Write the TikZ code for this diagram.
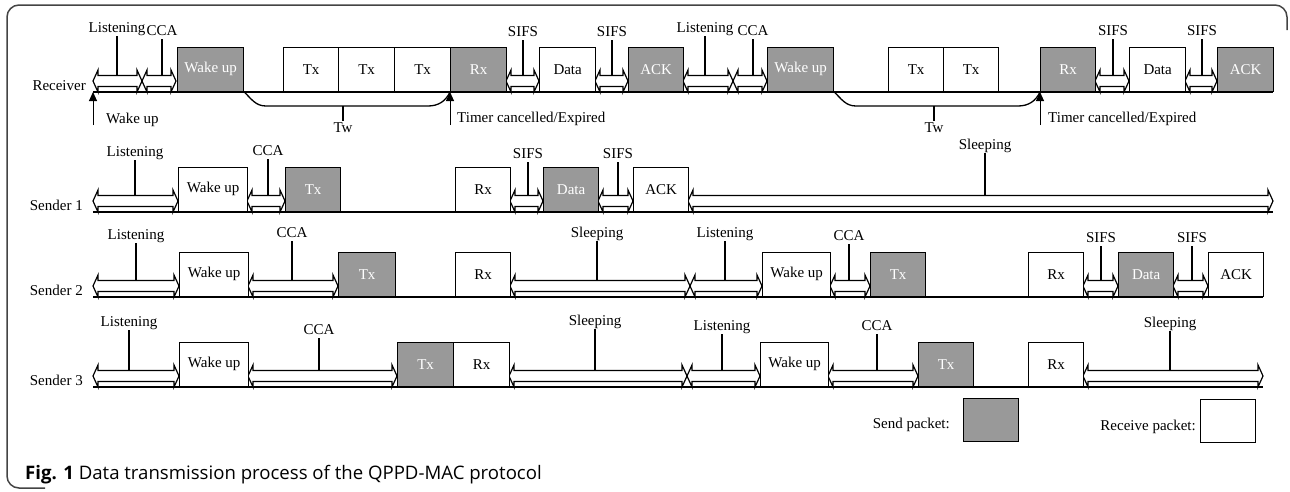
\documentclass[tikz,border=0pt]{standalone}
\usepackage{fontspec}
\setmainfont{Liberation Serif}
\newfontfamily\captionfont{Open Sans}
\usetikzlibrary{arrows.meta,positioning}
\definecolor{pktgray}{HTML}{999999}
\definecolor{framegray}{HTML}{444444}
\tikzset{
  pkt/.style={draw=black, line width=1.3pt, minimum height=44pt, inner sep=0pt, anchor=south west, font=\fontsize{15}{18}\selectfont},
  sendpkt/.style={pkt, fill=pktgray, text=white},
  recvpkt/.style={pkt, fill=white},
  lbl/.style={inner sep=0pt, anchor=base, font=\fontsize{15}{18}\selectfont},
  tick/.style={line width=1.2pt},
  timeline/.style={line width=1.5pt},
  phasebar/.style={line width=1.2pt, fill=white},
  upline/.style={line width=1pt, -{Triangle[length=9pt,width=8pt]}},
  brace/.style={line width=1.3pt},
  frame/.style={draw=framegray, line width=1.5pt, rounded corners=12pt}
}
% hollow double arrow: left x, right x, row baseline
\newcommand{\phasearrow}[3]{%
  \draw[phasebar] (#1,#3-11) -- (#1+5,#3-22) -- (#1+5,#3-16.5) -- (#2-5,#3-16.5) -- (#2-5,#3-22) -- (#2,#3-11)
    -- (#2-5,#3) -- (#2-5,#3-5.5) -- (#1+5,#3-5.5) -- (#1+5,#3) -- cycle;}
% label with tick: name, x, text baseline, row baseline, text
\newcommand{\phaselabel}[5]{%
  \node[lbl] (#1) at (#2,#3) {#5};
  \coordinate (#1-a) at (#2,#3+4);
  \coordinate (#1-b) at (#2,#4-16.5);
  \draw[tick] (#1-a) -- (#1-b);}

\begin{document}
\begin{tikzpicture}[x=1pt, y=-1pt]
  \useasboundingbox (0,0) rectangle (1290,491);
  \draw[frame] (45,488) -- (7,488) -- (7,5) -- (1287,5) -- (1287,30);

  % Receiver
  \node[lbl, anchor=base east] (recv) at (86,90) {Receiver};
  \coordinate (r-start) at (93,92);
  \coordinate (r-end) at (1273,92);
  \draw[timeline] (r-start) -- (r-end);
  \phasearrow{93}{142}{92}
  \phasearrow{142}{176}{92}
  \phasearrow{506}{539}{92}
  \phasearrow{595}{628}{92}
  \phasearrow{683}{733}{92}
  \phasearrow{733}{767}{92}
  \phasearrow{1095}{1129}{92}
  \phasearrow{1185}{1217}{92}
  \node[sendpkt, minimum width=66pt] (r-wake1) at (177,92) {Wake up};
  \node[recvpkt, minimum width=55pt] (r-tx1) at (283,92) {Tx};
  \node[recvpkt, minimum width=56pt] (r-tx2) at (338,92) {Tx};
  \node[recvpkt, minimum width=56pt] (r-tx3) at (394,92) {Tx};
  \node[sendpkt, minimum width=56pt] (r-rx1) at (450,92) {Rx};
  \node[recvpkt, minimum width=56pt] (r-data1) at (539,92) {Data};
  \node[sendpkt, minimum width=55pt] (r-ack1) at (628,92) {ACK};
  \node[sendpkt, minimum width=66pt] (r-wake2) at (767,92) {Wake up};
  \node[recvpkt, minimum width=55pt] (r-tx4) at (888,92) {Tx};
  \node[recvpkt, minimum width=55pt] (r-tx5) at (943,92) {Tx};
  \node[sendpkt, minimum width=55pt] (r-rx2) at (1040,92) {Rx};
  \node[recvpkt, minimum width=56pt] (r-data2) at (1129,92) {Data};
  \node[sendpkt, minimum width=56pt] (r-ack2) at (1217,92) {ACK};
  \phaselabel{r-lis1}{117}{32}{92}{Listening}
  \phaselabel{r-cca1}{162}{35}{92}{CCA}
  \phaselabel{r-sifs1}{523}{36}{92}{SIFS}
  \phaselabel{r-sifs2}{612}{36}{92}{SIFS}
  \phaselabel{r-lis2}{705}{32}{92}{Listening}
  \phaselabel{r-cca2}{753}{35}{92}{CCA}
  \phaselabel{r-sifs3}{1113}{35}{92}{SIFS}
  \phaselabel{r-sifs4}{1202}{35}{92}{SIFS}

  \coordinate (r-timer1) at (450,92);
  \coordinate (r-timer2) at (1040,92);
  \coordinate (r-wakefoot) at (93,125);
  \coordinate (r-timer1foot) at (450,125);
  \coordinate (r-timer2foot) at (1040,125);
  \draw[upline] (r-wakefoot) -- (r-start);
  \draw[upline] (r-timer1foot) -- (r-timer1);
  \draw[upline] (r-timer2foot) -- (r-timer2);
  \node[lbl, anchor=base west] (wake-note) at (106,123) {Wake up};
  \node[lbl, anchor=base west] (timer-note1) at (457,122) {Timer cancelled/Expired};
  \node[lbl, anchor=base west] (timer-note2) at (1048,122) {Timer cancelled/Expired};

  \draw[brace] (r-wake1.south east) to[out=-45,in=180] (266,106) -- (428,106) to[out=0,in=-115] (r-timer1);
  \draw[brace] (r-wake2.south east) to[out=-45,in=180] (856,106) -- (1018,106) to[out=0,in=-115] (r-timer2);
  \node[lbl] (tw1) at (343,132) {Tw};
  \node[lbl] (tw2) at (934,132) {Tw};
  \coordinate (tw1-a) at (343,106);
  \coordinate (tw2-a) at (934,106);
  \draw[tick] (tw1-a) -- ++(0,15);
  \draw[tick] (tw2-a) -- ++(0,15);

  % Sender 1
  \node[lbl, anchor=base east] (snd1) at (83,210) {Sender 1};
  \coordinate (s1-start) at (93,212);
  \coordinate (s1-end) at (1273,212);
  \draw[timeline] (s1-start) -- (s1-end);
  \phasearrow{93}{178}{212}
  \phasearrow{247}{285}{212}
  \phasearrow{510}{543}{212}
  \phasearrow{598}{633}{212}
  \phasearrow{688}{1273}{212}
  \node[recvpkt, minimum width=69pt] (s1-wake) at (178,212) {Wake up};
  \node[sendpkt, minimum width=55pt] (s1-tx) at (285,212) {Tx};
  \node[recvpkt, minimum width=55pt] (s1-rx) at (455,212) {Rx};
  \node[sendpkt, minimum width=55pt] (s1-data) at (543,212) {Data};
  \node[recvpkt, minimum width=55pt] (s1-ack) at (633,212) {ACK};
  \phaselabel{s1-lis}{135}{156}{212}{Listening}
  \phaselabel{s1-cca}{268}{155}{212}{CCA}
  \phaselabel{s1-sifs1}{528}{158}{212}{SIFS}
  \phaselabel{s1-sifs2}{618}{158}{212}{SIFS}
  \phaselabel{s1-sleep}{985}{149}{212}{Sleeping}

  % Sender 2
  \node[lbl, anchor=base east] (snd2) at (83,295) {Sender 2};
  \coordinate (s2-start) at (93,297);
  \coordinate (s2-end) at (1263,297);
  \draw[timeline] (s2-start) -- (s2-end);
  \phasearrow{93}{179}{297}
  \phasearrow{248}{338}{297}
  \phasearrow{510}{690}{297}
  \phasearrow{690}{762}{297}
  \phasearrow{830}{870}{297}
  \phasearrow{1083}{1118}{297}
  \phasearrow{1173}{1208}{297}
  \node[recvpkt, minimum width=69pt] (s2-wake1) at (179,297) {Wake up};
  \node[sendpkt, minimum width=57pt] (s2-tx1) at (338,297) {Tx};
  \node[recvpkt, minimum width=55pt] (s2-rx1) at (455,297) {Rx};
  \node[recvpkt, minimum width=68pt] (s2-wake2) at (762,297) {Wake up};
  \node[sendpkt, minimum width=55pt] (s2-tx2) at (870,297) {Tx};
  \node[recvpkt, minimum width=55pt] (s2-rx2) at (1028,297) {Rx};
  \node[sendpkt, minimum width=55pt] (s2-data) at (1118,297) {Data};
  \node[recvpkt, minimum width=55pt] (s2-ack) at (1208,297) {ACK};
  \phaselabel{s2-lis1}{136}{239}{297}{Listening}
  \phaselabel{s2-cca1}{292}{237}{297}{CCA}
  \phaselabel{s2-sleep}{597}{237}{297}{Sleeping}
  \phaselabel{s2-lis2}{725}{237}{297}{Listening}
  \phaselabel{s2-cca2}{849}{240}{297}{CCA}
  \phaselabel{s2-sifs1}{1101}{242}{297}{SIFS}
  \phaselabel{s2-sifs2}{1192}{242}{297}{SIFS}

  % Sender 3
  \node[lbl, anchor=base east] (snd3) at (83,385) {Sender 3};
  \coordinate (s3-start) at (93,387);
  \coordinate (s3-end) at (1263,387);
  \draw[timeline] (s3-start) -- (s3-end);
  \phasearrow{93}{179}{387}
  \phasearrow{248}{397}{387}
  \phasearrow{509}{687}{387}
  \phasearrow{687}{760}{387}
  \phasearrow{828}{918}{387}
  \phasearrow{1083}{1263}{387}
  \node[recvpkt, minimum width=69pt] (s3-wake1) at (179,387) {Wake up};
  \node[sendpkt, minimum width=56pt] (s3-tx1) at (397,387) {Tx};
  \node[recvpkt, minimum width=56pt] (s3-rx1) at (453,387) {Rx};
  \node[recvpkt, minimum width=68pt] (s3-wake2) at (760,387) {Wake up};
  \node[sendpkt, minimum width=55pt] (s3-tx2) at (918,387) {Tx};
  \node[recvpkt, minimum width=55pt] (s3-rx2) at (1028,387) {Rx};
  \phaselabel{s3-lis1}{129}{326}{387}{Listening}
  \phaselabel{s3-cca1}{319}{334}{387}{CCA}
  \phaselabel{s3-sleep1}{595}{325}{387}{Sleeping}
  \phaselabel{s3-lis2}{722}{330}{387}{Listening}
  \phaselabel{s3-cca2}{877}{330}{387}{CCA}
  \phaselabel{s3-sleep2}{1170}{327}{387}{Sleeping}

  % legend
  \node[sendpkt, minimum width=55pt, minimum height=43pt] (key-send) at (963,442) {};
  \node[lbl, anchor=base east] (key-send-txt) at (950,428) {Send packet:};
  \node[recvpkt, minimum width=55pt, minimum height=43pt] (key-recv) at (1200,443) {};
  \node[lbl, anchor=base east] (key-recv-txt) at (1196,430) {Receive packet:};

  \node[inner sep=0pt, anchor=base west, font=\captionfont\fontsize{18.6}{22}\selectfont] (caption) at (25,479)
    {\textbf{Fig. 1} Data transmission process of the QPPD-MAC protocol};
\end{tikzpicture}
\end{document}
